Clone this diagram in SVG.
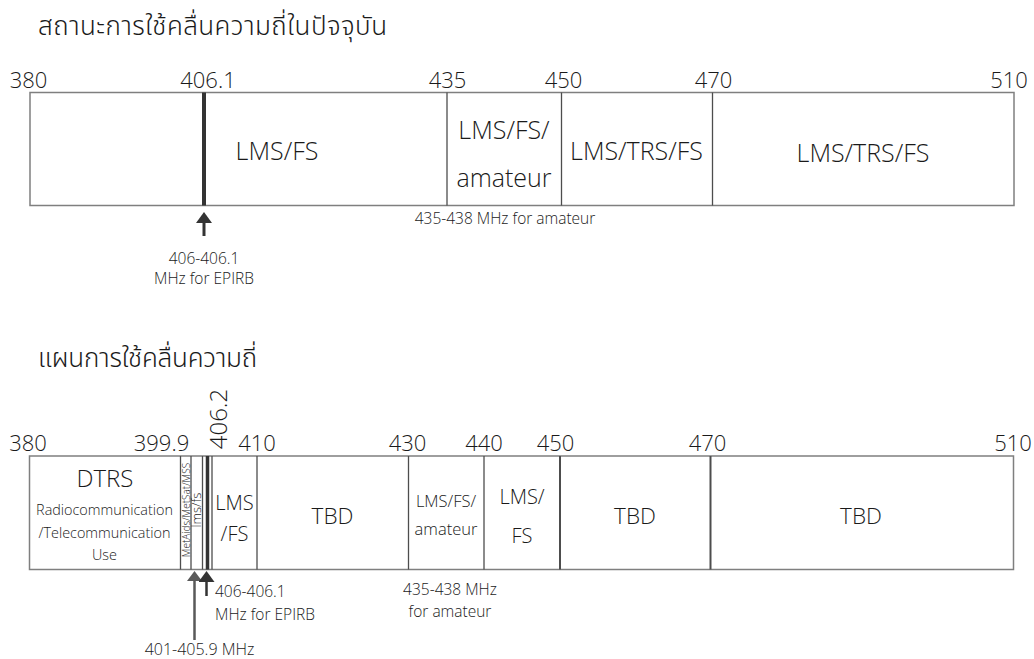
<svg xmlns="http://www.w3.org/2000/svg" width="1034" height="659" viewBox="0 0 1034 659">
<defs>
<style>
text{font-family:"Open Sans","Noto Sans Thai","Noto Sans",sans-serif;fill:#1a1a1a;font-weight:300}
.th{font-family:"Noto Sans Thai","Noto Sans","Open Sans",sans-serif;font-size:26px}
.tick{font-size:22px;text-anchor:middle}
.c{text-anchor:middle}
.band{fill:#fff;stroke:#7f7f7f;stroke-width:1.5}
.div{stroke:#4d4d4d;stroke-width:1.3}
.bar{stroke:#333;stroke-width:4}
.note{font-size:15.5px}
.s20{font-size:20px}
.s25{font-size:25px}
.s22{font-size:22.5px}
</style>
<marker id="ahDark" viewBox="0 0 11 16" refX="0" refY="8" markerWidth="11" markerHeight="16" markerUnits="userSpaceOnUse" orient="auto"><path d="M0,0 L11,8 L0,16 z" fill="#333"/></marker>
<marker id="ahGray" viewBox="0 0 10 15" refX="0" refY="7.5" markerWidth="10" markerHeight="15" markerUnits="userSpaceOnUse" orient="auto"><path d="M0,0 L10,7.5 L0,15 z" fill="#595959"/></marker>
</defs>
<rect width="1034" height="659" fill="#fff"/>

<g id="title-current"><text class="th" x="38" y="35" textLength="349">สถานะการใช้คลื่นความถี่ในปัจจุบัน</text></g>
<g id="ticks-current">
<text class="tick" x="28.5" y="88">380</text>
<text class="tick" x="208" y="88">406.1</text>
<text class="tick" x="447.5" y="88">435</text>
<text class="tick" x="563.5" y="88">450</text>
<text class="tick" x="713.5" y="88">470</text>
<text class="tick" x="1009" y="88">510</text>
</g>
<g id="band-current">
<rect class="band" x="30" y="92.5" width="984" height="113"/>
<line class="div" x1="447" y1="92.5" x2="447" y2="205.5"/>
<line class="div" x1="561.5" y1="92.5" x2="561.5" y2="205.5"/>
<line class="div" x1="712.5" y1="92.5" x2="712.5" y2="205.5"/>
<line class="bar" x1="204" y1="92.5" x2="204" y2="205.5"/>
</g>
<g id="cur-lmsfs"><text class="c s25" x="277" y="160">LMS/FS</text></g>
<g id="cur-amateur"><text class="c s25" x="504" y="139">LMS/FS/</text><text class="c s25" x="504" y="187">amateur</text></g>
<g id="cur-lmstrsfs1"><text class="c s25" x="636.5" y="160">LMS/TRS/FS</text></g>
<g id="cur-lmstrsfs2"><text class="c s25" x="863" y="162">LMS/TRS/FS</text></g>
<g id="note-cur-amateur"><text class="c note" x="505" y="224">435-438 MHz for amateur</text></g>
<g id="note-cur-epirb"><text class="c note" x="204" y="264">406-406.1</text><text class="c note" x="204" y="284">MHz for EPIRB</text></g>

<g id="title-plan"><text class="th" x="38" y="367" textLength="219">แผนการใช้คลื่นความถี่</text></g>
<g id="ticks-plan">
<text class="tick" x="28" y="451">380</text>
<text class="tick" x="161.5" y="451">399.9</text>
<text class="tick" x="257" y="451">410</text>
<text class="tick" x="407.5" y="451">430</text>
<text class="tick" x="484" y="451">440</text>
<text class="tick" x="555.5" y="451">450</text>
<text class="tick" x="707.5" y="451">470</text>
<text class="tick" x="1013" y="451">510</text>
<text class="tick" transform="translate(226.5,419) rotate(-90)" style="font-size:24px">406.2</text>
</g>
<g id="band-plan">
<rect class="band" x="29.5" y="456" width="984" height="113.5"/>
<line class="div" x1="180.5" y1="456" x2="180.5" y2="569.5"/>
<line class="div" x1="191" y1="456" x2="191" y2="569.5"/>
<line class="div" x1="202.5" y1="456" x2="202.5" y2="569.5"/>
<line class="div" x1="212" y1="456" x2="212" y2="569.5"/>
<line class="div" x1="257" y1="456" x2="257" y2="569.5"/>
<line class="div" x1="408.5" y1="456" x2="408.5" y2="569.5"/>
<line class="div" x1="484" y1="456" x2="484" y2="569.5"/>
<line class="div" x1="560" y1="456" x2="560" y2="569.5" style="stroke-width:2"/>
<line class="div" x1="710.5" y1="456" x2="710.5" y2="569.5" style="stroke-width:2"/>
<line class="bar" x1="207.5" y1="456" x2="207.5" y2="569.5" style="stroke-width:3.5"/>
</g>
<g id="plan-dtrs">
<text class="c" x="105" y="487" style="font-size:24px">DTRS</text>
<text class="c" x="104.5" y="515" style="font-size:14.4px">Radiocommunication</text>
<text class="c" x="104.5" y="538" style="font-size:14.4px">/Telecommunication</text>
<text class="c" x="104.5" y="560" style="font-size:14.4px">Use</text>
</g>
<g id="plan-metaids"><text class="c" transform="translate(189.5,510) rotate(-90)" style="font-size:10px">MetAids/MetSat/MSS</text></g>
<g id="plan-lmsfs-small"><text class="c" transform="translate(200.5,510) rotate(-90)" style="font-size:13px">lms/fs</text></g>
<g id="plan-lmsfs"><text class="c s20" x="234.5" y="510">LMS</text><text class="c s20" x="234.5" y="541">/FS</text></g>
<g id="plan-tbd1"><text class="c s22" x="332.5" y="524">TBD</text></g>
<g id="plan-amateur"><text class="c" x="446" y="507" style="font-size:16.5px">LMS/FS/</text><text class="c" x="446" y="535" style="font-size:16.5px">amateur</text></g>
<g id="plan-lmsfs2"><text class="c s20" x="522" y="504">LMS/</text><text class="c s20" x="522" y="543">FS</text></g>
<g id="plan-tbd2"><text class="c s22" x="635" y="524">TBD</text></g>
<g id="plan-tbd3"><text class="c s22" x="861" y="524">TBD</text></g>
<g id="note-plan-amateur"><text class="c note" x="450" y="595">435-438 MHz</text><text class="c note" x="450" y="617">for amateur</text></g>
<g id="note-plan-epirb"><text class="note" x="215" y="597">406-406.1</text><text class="note" x="215" y="620">MHz for EPIRB</text></g>
<g id="note-plan-401"><text class="c" x="199.5" y="655" style="font-size:16px">401-405.9 MHz</text></g>

<g id="connectors">
<line x1="204" y1="236" x2="204" y2="223" stroke="#333" stroke-width="3" marker-end="url(#ahDark)"/>
<line x1="194.5" y1="640" x2="194.5" y2="581" stroke="#595959" stroke-width="2.5" marker-end="url(#ahGray)"/>
<line x1="206.5" y1="596" x2="206.5" y2="582" stroke="#333" stroke-width="2.5" marker-end="url(#ahDark)"/>
</g>
</svg>
